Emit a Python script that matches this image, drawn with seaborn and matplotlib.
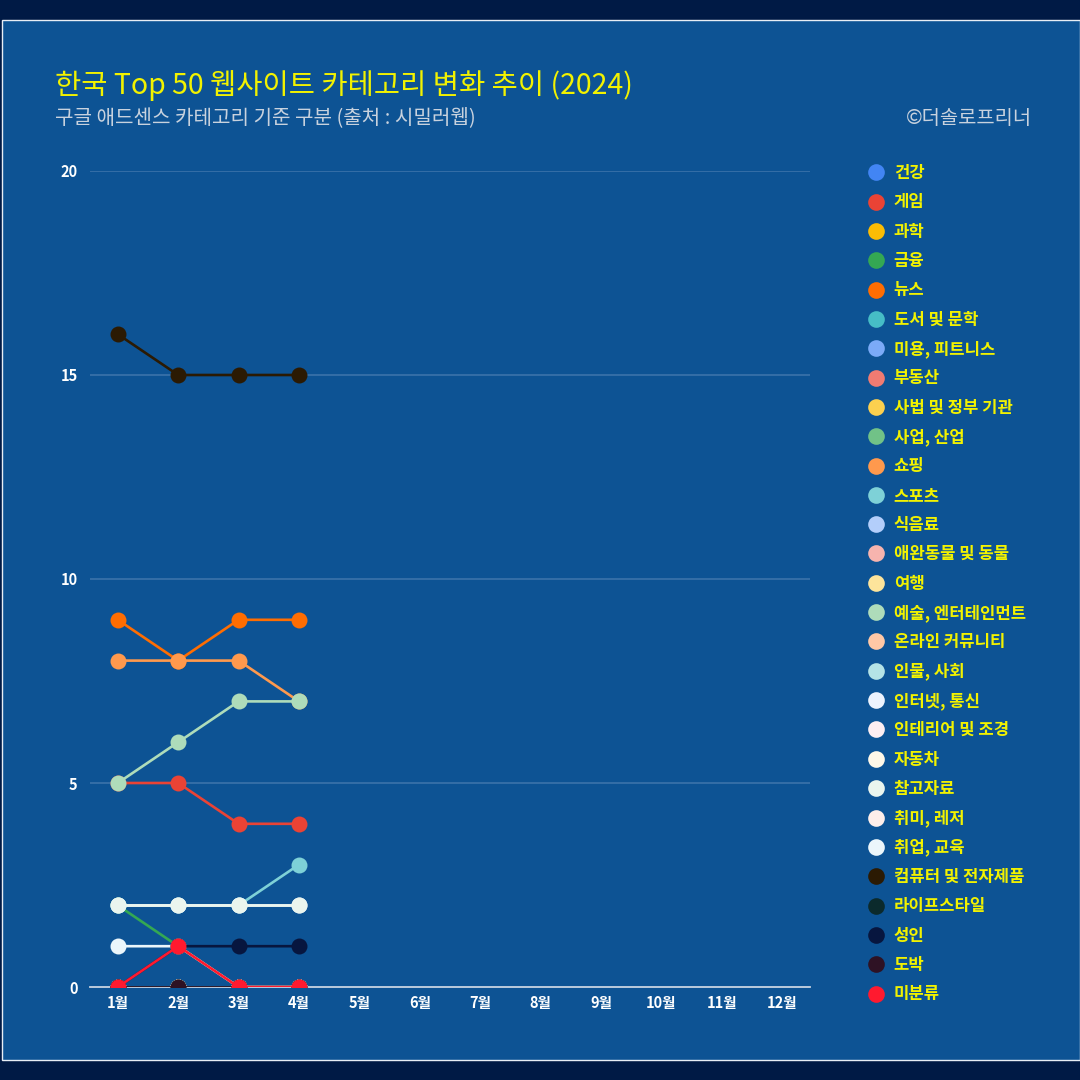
import numpy as np
import pandas as pd
import matplotlib
matplotlib.use("Agg")
import matplotlib.pyplot as plt
import seaborn as sns
from matplotlib.lines import Line2D
from matplotlib.patches import Rectangle

# ---------------- data ----------------
months = ["1월", "2월", "3월", "4월", "5월", "6월", "7월", "8월", "9월", "10월", "11월", "12월"]
categories = ["건강", "게임", "과학", "금융", "뉴스", "도서 및 문학", "미용, 피트니스", "부동산",
              "사법 및 정부 기관", "사업, 산업", "쇼핑", "스포츠", "식음료", "애완동물 및 동물",
              "여행", "예술, 엔터테인먼트", "온라인 커뮤니티", "인물, 사회", "인터넷, 통신",
              "인테리어 및 조경", "자동차", "참고자료", "취미, 레저", "취업, 교육",
              "컴퓨터 및 전자제품", "라이프스타일", "성인", "도박", "미분류"]
colors = ["#4285f4", "#ea4335", "#fbbc04", "#34a853", "#ff6d01", "#46bdc6", "#7baaf7", "#f07b72",
          "#fcd04f", "#71c287", "#ff994d", "#7ed1d7", "#b3cefb", "#f7b4ae", "#fde49b", "#aedcba",
          "#ffc8a6", "#b5e3e6", "#ecf3fe", "#fdeef2", "#fff8e8", "#eaf5ee", "#fdeeea", "#ebf6fb",
          "#2b1a03", "#0b2a2c", "#07163f", "#2e1224", "#ff1a2f"]

# monthly counts (Jan-Apr published)
v_health = [0, 0, 0, 0]
v_game = [5, 5, 4, 4]
v_science = [0, 0, 0, 0]
v_finance = [2, 1, 0, 0]
v_news = [9, 8, 9, 9]
v_books = [0, 0, 0, 0]
v_beauty = [0, 0, 0, 0]
v_realestate = [0, 0, 0, 0]
v_law = [0, 0, 0, 0]
v_business = [0, 0, 0, 0]
v_shopping = [8, 8, 8, 7]
v_sports = [2, 2, 2, 3]
v_food = [0, 0, 0, 0]
v_pets = [0, 0, 0, 0]
v_travel = [0, 0, 0, 0]
v_arts = [5, 6, 7, 7]
v_community = [0, 0, 0, 0]
v_people = [0, 0, 0, 0]
v_internet = [2, 2, 2, 2]
v_home = [0, 0, 0, 0]
v_autos = [0, 0, 0, 0]
v_reference = [2, 2, 2, 2]
v_hobbies = [0, 0, 0, 0]
v_jobs = [1, 1, 0, 0]
v_computers = [16, 15, 15, 15]
v_lifestyle = [0, 0, 0, 0]
v_adult = [0, 1, 1, 1]
v_gambling = [0, 0, 0, 0]
v_unknown = [0, 1, 0, 0]

series = [v_health, v_game, v_science, v_finance, v_news, v_books, v_beauty, v_realestate,
          v_law, v_business, v_shopping, v_sports, v_food, v_pets, v_travel, v_arts,
          v_community, v_people, v_internet, v_home, v_autos, v_reference, v_hobbies, v_jobs,
          v_computers, v_lifestyle, v_adult, v_gambling, v_unknown]

rows = []
for cat, vals in zip(categories, series):
    for i, v in enumerate(vals):
        rows.append({"month": i, "category": cat, "count": v})
df = pd.DataFrame(rows)

# ---------------- style ----------------
sns.set_theme(style="white")
plt.rcParams["font.family"] = ["Noto Sans CJK KR", "DejaVu Sans"]

OUTER = "#001a45"
PANEL = "#0d5394"
GRID = "#3b73aa"

fig = plt.figure(figsize=(10.8, 10.8), dpi=100, facecolor=OUTER)
fig.patches.append(Rectangle((2 / 1080, 20 / 1080), 1078 / 1080, 1040 / 1080,
                             transform=fig.transFigure, facecolor=PANEL,
                             edgecolor="#e8eef5", linewidth=1.0, zorder=-5))

ax = fig.add_axes([90 / 1080, 1 - 987 / 1080, 720 / 1080, 816 / 1080])
ax.set_facecolor("none")
ax.set_zorder(2)

palette = dict(zip(categories, colors))
sns.lineplot(data=df, x="month", y="count", hue="category", hue_order=categories,
             palette=palette, marker="o", markersize=11.5, markeredgewidth=0,
             linewidth=1.9, estimator=None, sort=False, legend=False, ax=ax)

ax.set_xlim(-0.46, 11.46)
ax.set_ylim(0, 20)
ax.set_yticks([0, 5, 10, 15, 20])
ax.set_xticks(range(12))
ax.set_xticklabels(months)
ax.set_xlabel("")
ax.set_ylabel("")
for y in [5, 10, 15, 20]:
    ax.axhline(y, color=GRID, linewidth=1.2, zorder=0.5)
for s in ["top", "right", "left"]:
    ax.spines[s].set_visible(False)
ax.spines["bottom"].set_color("#c9d4e2")
ax.spines["bottom"].set_linewidth(1.3)
ax.spines["bottom"].set_zorder(0.6)
ax.tick_params(axis="both", length=0, colors="white")
ax.tick_params(axis="y", pad=9)
ax.tick_params(axis="x", pad=6)
for lab in ax.get_yticklabels() + ax.get_xticklabels():
    lab.set_fontsize(10.5)
    lab.set_fontweight("bold")
    lab.set_color("white")

# ---------------- titles ----------------
fig.text(55 / 1080, 1 - 86 / 1080, "한국 Top 50 웹사이트 카테고리 변화 추이 (2024)",
         color="#f2f200", fontsize=20.5, va="center", ha="left")
fig.text(55 / 1080, 1 - 118 / 1080, "구글 애드센스 카테고리 기준 구분 (출처 : 시밀러웹)",
         color="#c8d2de", fontsize=14.5, va="center", ha="left")
fig.text(1032 / 1080, 1 - 118 / 1080, "©더솔로프리너",
         color="#c8d2de", fontsize=14.3, va="center", ha="right")

# ---------------- legend ----------------
handles = [Line2D([], [], linestyle="", marker="o", markersize=12, markeredgewidth=0,
                  color=c) for c in colors]
leg = fig.legend(handles, categories, loc="upper left",
                 bbox_to_anchor=(868 / 1080, 1 - 164 / 1080),
                 frameon=False, fontsize=12, labelcolor="#f2f200",
                 handlelength=1.0, handletextpad=0.55, labelspacing=0.68,
                 borderaxespad=0, borderpad=0)
for t in leg.get_texts():
    t.set_fontweight("bold")

fig.savefig("out.png", dpi=100, facecolor=OUTER)
